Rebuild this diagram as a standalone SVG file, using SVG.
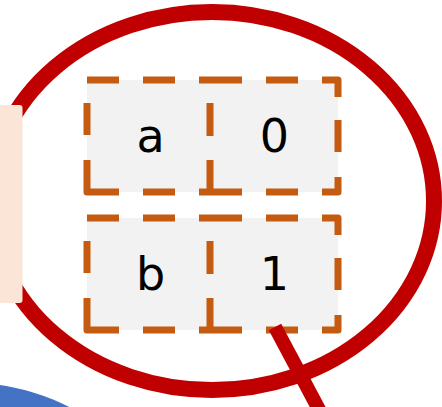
<svg xmlns="http://www.w3.org/2000/svg" width="442" height="407" viewBox="0 0 442 407">
  <style>
    .cell { fill: #F2F2F2; }
    .dash { fill: none; stroke: #C55A11; stroke-width: 7; stroke-linecap: butt; stroke-linejoin: round; }
    .lbl { font-family: "DejaVu Sans", sans-serif; font-size: 46px; fill: #000000; text-anchor: middle; }
    .red { fill: none; stroke: #C00000; }
  </style>
  <defs>
    <path id="border" class="dash" d="M87,80 H119 M143,80 H175 M199,80 H242 M266,80 H298 M322,80 H338 V97 M338,120 V152 M338,177 V192 H322 M298,192 H266 M242,192 H199 M175,192 H143 M119,192 H87 V160 M87,135 V103 M210,103 V136 M210,160 V192"/>
  </defs>
  <rect width="442" height="407" fill="#FFFFFF"/>
  <g id="blue-shape">
    <circle cx="-30" cy="600" r="217" fill="#4472C4"/>
  </g>
  <g id="red-ellipse">
    <ellipse class="red" cx="212" cy="201" rx="222" ry="189" stroke-width="16"/>
  </g>
  <g id="peach-box">
    <rect x="-6" y="105" width="28.5" height="198" rx="3" fill="#FBE5D6"/>
  </g>
  <g id="row-a">
    <rect class="cell" x="87" y="80" width="123" height="112"/>
    <rect class="cell" x="210" y="80" width="128" height="112"/>
    <use href="#border"/>
    <text class="lbl" x="150.5" y="152">a</text>
    <text class="lbl" x="274.5" y="152">0</text>
  </g>
  <g id="row-b">
    <rect class="cell" x="87" y="218" width="123" height="112"/>
    <rect class="cell" x="210" y="218" width="128" height="112"/>
    <use href="#border" transform="translate(0,138)"/>
    <text class="lbl" x="150.5" y="290">b</text>
    <text class="lbl" x="274.5" y="290">1</text>
  </g>
  <g id="connectors">
    <line class="red" x1="275" y1="327" x2="323" y2="417" stroke-width="14"/>
  </g>
</svg>
